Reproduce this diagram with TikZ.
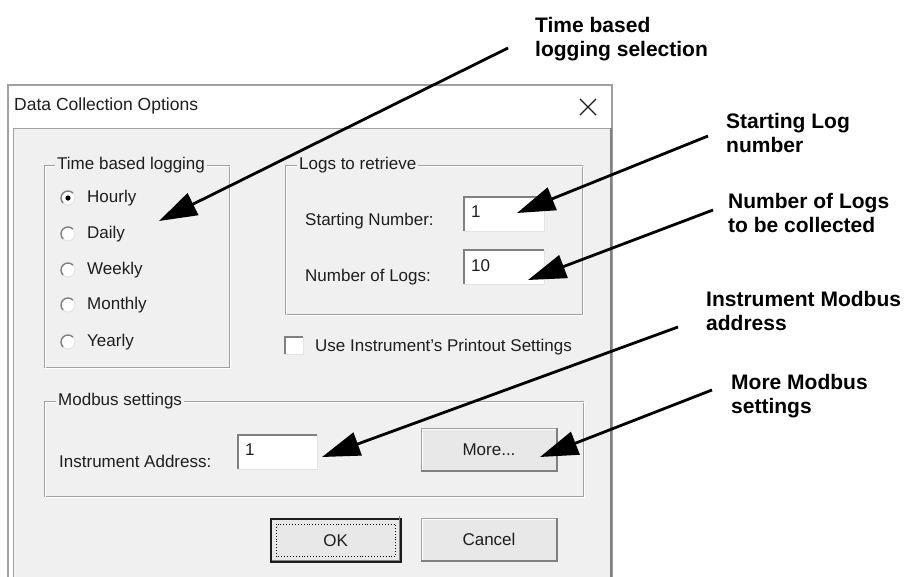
\documentclass[tikz,border=0pt]{standalone}
\usepackage{fontspec}
\setmainfont{Liberation Sans}
\usetikzlibrary{arrows.meta}
\definecolor{dlgbg}{HTML}{F0F0F0}
\definecolor{etch}{HTML}{A0A0A0}
\definecolor{txt}{HTML}{1E1E1E}
\definecolor{btnface}{HTML}{E8E8E8}
\definecolor{shadow}{HTML}{808080}
\definecolor{lite}{HTML}{E3E3E3}
\tikzset{
  dlg/.style={font=\fontsize{17}{20}\selectfont, text=txt, inner sep=0pt},
  grouplbl/.style={dlg, fill=dlgbg, inner xsep=2pt, inner ysep=1pt, anchor=west},
  callout/.style={font=\bfseries\fontsize{21}{24}\selectfont, align=left, anchor=north west, inner sep=0pt},
  pointer/.style={line width=2.8pt, -{Triangle[length=38pt,width=24pt]}},
  radiobtn/.style={circle, fill=white, minimum size=14pt, inner sep=0pt},
  tbox/.style={fill=white, minimum width=80pt, minimum height=34pt, anchor=north west, inner sep=0pt},
  btnbox/.style={dlg, fill=btnface, draw=etch, line width=1pt, minimum width=135pt, minimum height=42pt, anchor=north west},
}
\begin{document}
\begin{tikzpicture}[x=1pt,y=-1pt]
\useasboundingbox (0,0) rectangle (905,576);
\fill[white] (0,0) rectangle (905,576);
% ---- window ----
\draw[etch, fill=white, line width=1.2pt] (8,85) rectangle (612,600);
\fill[dlgbg] (13,128) rectangle (610,600);
\draw[etch, line width=1pt] (13,600) -- (13,128) -- (610,128);
\draw[shadow, line width=2pt] (611,128) -- (611,600);
\node[font=\fontsize{17.5}{20}\selectfont, text=txt, anchor=west, inner sep=0pt] (title) at (14,106) {Data Collection Options};
\draw[txt, line width=1.1pt] (580,99) -- (596,115) (580,115) -- (596,99);

% ---- Time based logging group ----
\draw[etch] (44,165) rectangle (229,367);
\draw[white] (45,166) rectangle (230,368);
\node[grouplbl] (g1) at (55,165) {Time based logging};
\foreach \n/\yy/\lab in {r1/198/Hourly, r2/234/Daily, r3/270/Weekly, r4/305/Monthly, r5/342/Yearly}{
  \node[radiobtn] (\n) at (68,\yy) {};
  \draw[lite, line width=1pt] (\n) ++(-45:7) arc[start angle=-45, end angle=135, radius=7];
  \draw[shadow, line width=1.4pt] (\n) ++(-45:7) arc[start angle=-45, end angle=-225, radius=7];
  \node[dlg, anchor=west] (\n l) at (87,\yy) {\lab};
}
\fill[black] (r1) circle (2.6);

% ---- Logs to retrieve group ----
\draw[etch] (285,165) rectangle (582,314);
\draw[white] (286,166) rectangle (583,315);
\node[grouplbl] (g2) at (297,165) {Logs to retrieve};
\node[dlg, anchor=west] (snl) at (305,221) {Starting Number:};
\node[tbox] (sn) at (464,197) {};
\draw[shadow, line width=1.5pt] (sn.south west) -- (sn.north west) -- (sn.north east);
\draw[lite, line width=1pt] (sn.north east) -- (sn.south east) -- (sn.south west);
\node[dlg, anchor=west] (snv) at (471,212) {1};
\node[dlg, anchor=west] (nll) at (305,277) {Number of Logs:};
\node[tbox] (nl) at (464,250) {};
\draw[shadow, line width=1.5pt] (nl.south west) -- (nl.north west) -- (nl.north east);
\draw[lite, line width=1pt] (nl.north east) -- (nl.south east) -- (nl.south west);
\node[dlg, anchor=west] (nlv) at (471,266) {10};

% ---- checkbox ----
\node[fill=white, minimum width=18pt, minimum height=17pt, inner sep=0pt, anchor=north west] (cb) at (285,337) {};
\draw[shadow, line width=1.5pt] (cb.south west) -- (cb.north west) -- (cb.north east);
\draw[lite, line width=1pt] (cb.north east) -- (cb.south east) -- (cb.south west);
\node[dlg, anchor=west] (cbl) at (315,347) {Use Instrument's Printout Settings};

% ---- Modbus settings group ----
\draw[etch] (44,401) rectangle (583,496);
\draw[white] (45,402) rectangle (584,497);
\node[grouplbl] (g3) at (56,401) {Modbus settings};
\node[dlg, anchor=west] (ial) at (59,461) {Instrument Address:};
\node[tbox, minimum width=79pt] (ia) at (238,435) {};
\draw[shadow, line width=1.5pt] (ia.south west) -- (ia.north west) -- (ia.north east);
\draw[lite, line width=1pt] (ia.north east) -- (ia.south east) -- (ia.south west);
\node[dlg, anchor=west] (iav) at (245,450) {1};
\node[btnbox] (more) at (421,428) {More...};
\draw[white, line width=1pt] ([shift={(1.5,-1.5)}]more.south west) -- ([shift={(1.5,1.5)}]more.north west) -- ([shift={(-1.5,1.5)}]more.north east);
\draw[shadow, line width=1.5pt] (more.north east) -- (more.south east) -- (more.south west);

% ---- OK / Cancel ----
\node[btnbox, minimum width=130pt, minimum height=43pt, draw=txt, line width=1.5pt] (ok) at (270,518) {OK};
\draw[shadow, line width=1.5pt] ([shift={(-2,-2)}]ok.north east) -- ([shift={(-2,-2)}]ok.south east) -- ([shift={(2,-2)}]ok.south west);
\draw[black, line width=0.9pt, dotted] ([shift={(6,6)}]ok.north west) rectangle ([shift={(-6,-6)}]ok.south east);
\node[btnbox] (cancel) at (421,518) {Cancel};
\draw[white, line width=1pt] ([shift={(1.5,-1.5)}]cancel.south west) -- ([shift={(1.5,1.5)}]cancel.north west) -- ([shift={(-1.5,1.5)}]cancel.north east);
\draw[shadow, line width=1.5pt] (cancel.north east) -- (cancel.south east) -- (cancel.south west);

% ---- callouts ----
\node[callout] (c1) at (535,17) {Time based\\logging selection};
\node[callout] (c2) at (726,113) {Starting Log\\number};
\node[callout] (c3) at (728,193) {Number of Logs\\to be collected};
\node[callout] (c4) at (706,291) {Instrument Modbus\\address};
\node[callout] (c5) at (731,374) {More Modbus\\settings};

\coordinate (s1) at (508,48);   \coordinate (t1) at (159,221);
\coordinate (s2) at (708,136);  \coordinate (t2) at (517,213);
\coordinate (s3) at (713,210);  \coordinate (t3) at (528,280);
\coordinate (s4) at (678,327);  \coordinate (t4) at (322,457);
\coordinate (s5) at (712,390);  \coordinate (t5) at (540,457);
\foreach \i in {1,...,5}{ \draw[pointer] (s\i) -- (t\i); }
\end{tikzpicture}
\end{document}
